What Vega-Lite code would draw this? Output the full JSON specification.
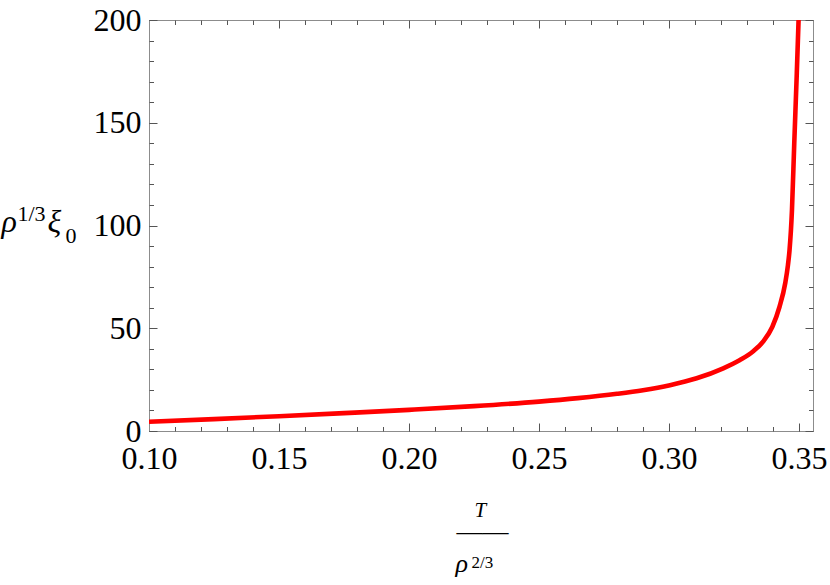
{
  "$schema": "https://vega.github.io/schema/vega-lite/v6.json",
  "autosize": {"type": "none"},
  "padding": {"left": 149, "top": 20, "right": 17, "bottom": 154},
  "width": 664,
  "height": 411,
  "background": "white",
  "config": {
    "view": {"stroke": null},
    "axis": {
      "grid": false,
      "labelFont": "Liberation Serif, Times New Roman, Times, serif",
      "labelFontSize": 32,
      "labelColor": "black",
      "titleFont": "Liberation Serif, Times New Roman, Times, serif",
      "titleColor": "black",
      "titleFontWeight": "normal",
      "titleAlign": "left",
      "titleBaseline": "alphabetic",
      "titleAngle": 0,
      "domainColor": "#8c8c8c",
      "domainWidth": 1,
      "tickColor": "#555555",
      "tickWidth": 1,
      "labelOverlap": false,
      "labelFlush": false
    }
  },
  "data": {
    "values": [
      {"t": 0.100, "xi": 4.5},
      {"t": 0.125, "xi": 5.8},
      {"t": 0.150, "xi": 7.2},
      {"t": 0.175, "xi": 8.7},
      {"t": 0.200, "xi": 10.3},
      {"t": 0.225, "xi": 12.1},
      {"t": 0.250, "xi": 14.3},
      {"t": 0.265, "xi": 16.0},
      {"t": 0.280, "xi": 18.1},
      {"t": 0.290, "xi": 19.85},
      {"t": 0.30038, "xi": 22.3},
      {"t": 0.31065, "xi": 25.64},
      {"t": 0.32088, "xi": 30.51},
      {"t": 0.32731, "xi": 34.55},
      {"t": 0.33242, "xi": 38.8},
      {"t": 0.33627, "xi": 43.6},
      {"t": 0.33973, "xi": 50.61},
      {"t": 0.3425, "xi": 60.34},
      {"t": 0.34473, "xi": 72.02},
      {"t": 0.34577, "xi": 80.78},
      {"t": 0.34638, "xi": 88.08},
      {"t": 0.34731, "xi": 107.54},
      {"t": 0.34819, "xi": 140.0},
      {"t": 0.34912, "xi": 172.4},
      {"t": 0.34988, "xi": 201.0},
      {"t": 0.35015, "xi": 212.2}
    ]
  },
  "resolve": {"axis": {"x": "independent", "y": "independent"}},
  "layer": [
    {
      "mark": {"type": "line", "color": "#ff0000", "strokeWidth": 4.6, "clip": true, "interpolate": "monotone"},
      "encoding": {
        "x": {
          "field": "t", "type": "quantitative",
          "scale": {"domain": [0.1, 0.3554], "nice": false, "zero": false},
          "axis": {
            "orient": "bottom",
            "values": [0.1, 0.15, 0.2, 0.25, 0.3, 0.35],
            "format": ".2f",
            "ticks": false, "tickSize": 0, "labelPadding": 12,
            "domain": true,
            "title": "T", "titleX": 325, "titleY": 85,
            "titleFontSize": 21, "titleFontStyle": "italic"
          }
        },
        "y": {
          "field": "xi", "type": "quantitative",
          "scale": {"domain": [0, 200], "nice": false, "zero": false},
          "axis": {
            "orient": "left",
            "values": [0, 50, 100, 150, 200],
            "ticks": false, "tickSize": 0, "labelPadding": 8,
            "domain": true,
            "title": "ρ", "titleX": -148, "titleY": 211,
            "titleFontSize": 32, "titleFontStyle": "italic"
          }
        }
      }
    },
    {
      "mark": {"type": "line", "strokeOpacity": 0},
      "encoding": {
        "x": {
          "field": "t", "type": "quantitative",
          "scale": {"domain": [0.1, 0.3554], "nice": false, "zero": false},
          "axis": {
            "orient": "bottom",
            "values": [0.1, 0.15, 0.2, 0.25, 0.3, 0.35],
            "labels": false, "domain": false, "ticks": true, "tickSize": -8,
            "title": "——", "titleX": 307, "titleY": 108.5, "titleFontSize": 26
          }
        },
        "y": {
          "field": "xi", "type": "quantitative",
          "scale": {"domain": [0, 200], "nice": false, "zero": false},
          "axis": {
            "orient": "left",
            "values": [0, 50, 100, 150, 200],
            "labels": false, "domain": false, "ticks": true, "tickSize": -8,
            "title": "1/3", "titleX": -132, "titleY": 200, "titleFontSize": 22
          }
        }
      }
    },
    {
      "mark": {"type": "line", "strokeOpacity": 0},
      "encoding": {
        "x": {
          "field": "t", "type": "quantitative",
          "scale": {"domain": [0.1, 0.3554], "nice": false, "zero": false},
          "axis": {
            "orient": "bottom",
            "values": [0.1, 0.11, 0.12, 0.13, 0.14, 0.15, 0.16, 0.17, 0.18, 0.19, 0.2, 0.21, 0.22, 0.23, 0.24, 0.25, 0.26, 0.27, 0.28, 0.29, 0.3, 0.31, 0.32, 0.33, 0.34, 0.35],
            "labels": false, "domain": false, "ticks": true, "tickSize": -4.5,
            "title": "ρ", "titleX": 306, "titleY": 140, "titleFontSize": 26, "titleFontStyle": "italic"
          }
        },
        "y": {
          "field": "xi", "type": "quantitative",
          "scale": {"domain": [0, 200], "nice": false, "zero": false},
          "axis": {
            "orient": "left",
            "values": [0, 10, 20, 30, 40, 50, 60, 70, 80, 90, 100, 110, 120, 130, 140, 150, 160, 170, 180, 190, 200],
            "labels": false, "domain": false, "ticks": true, "tickSize": -4.5,
            "title": "ξ", "titleX": -102, "titleY": 211, "titleFontSize": 32, "titleFontStyle": "italic"
          }
        }
      }
    },
    {
      "mark": {"type": "line", "strokeOpacity": 0},
      "encoding": {
        "x": {
          "field": "t", "type": "quantitative",
          "scale": {"domain": [0.1, 0.3554], "nice": false, "zero": false},
          "axis": {
            "orient": "top",
            "values": [0.1, 0.15, 0.2, 0.25, 0.3, 0.35],
            "labels": false, "domain": true, "ticks": true, "tickSize": -8,
            "title": "2/3", "titleX": 322, "titleY": 547, "titleFontSize": 17
          }
        },
        "y": {
          "field": "xi", "type": "quantitative",
          "scale": {"domain": [0, 200], "nice": false, "zero": false},
          "axis": {
            "orient": "right",
            "values": [0, 50, 100, 150, 200],
            "labels": false, "domain": true, "ticks": true, "tickSize": -8,
            "title": "0", "titleX": -748, "titleY": 222, "titleFontSize": 22
          }
        }
      }
    },
    {
      "mark": {"type": "line", "strokeOpacity": 0},
      "encoding": {
        "x": {
          "field": "t", "type": "quantitative",
          "scale": {"domain": [0.1, 0.3554], "nice": false, "zero": false},
          "axis": {
            "orient": "top",
            "values": [0.1, 0.11, 0.12, 0.13, 0.14, 0.15, 0.16, 0.17, 0.18, 0.19, 0.2, 0.21, 0.22, 0.23, 0.24, 0.25, 0.26, 0.27, 0.28, 0.29, 0.3, 0.31, 0.32, 0.33, 0.34, 0.35],
            "labels": false, "domain": false, "ticks": true, "tickSize": -4.5,
            "title": null
          }
        },
        "y": {
          "field": "xi", "type": "quantitative",
          "scale": {"domain": [0, 200], "nice": false, "zero": false},
          "axis": {
            "orient": "right",
            "values": [0, 10, 20, 30, 40, 50, 60, 70, 80, 90, 100, 110, 120, 130, 140, 150, 160, 170, 180, 190, 200],
            "labels": false, "domain": false, "ticks": true, "tickSize": -4.5,
            "title": null
          }
        }
      }
    }
  ]
}
